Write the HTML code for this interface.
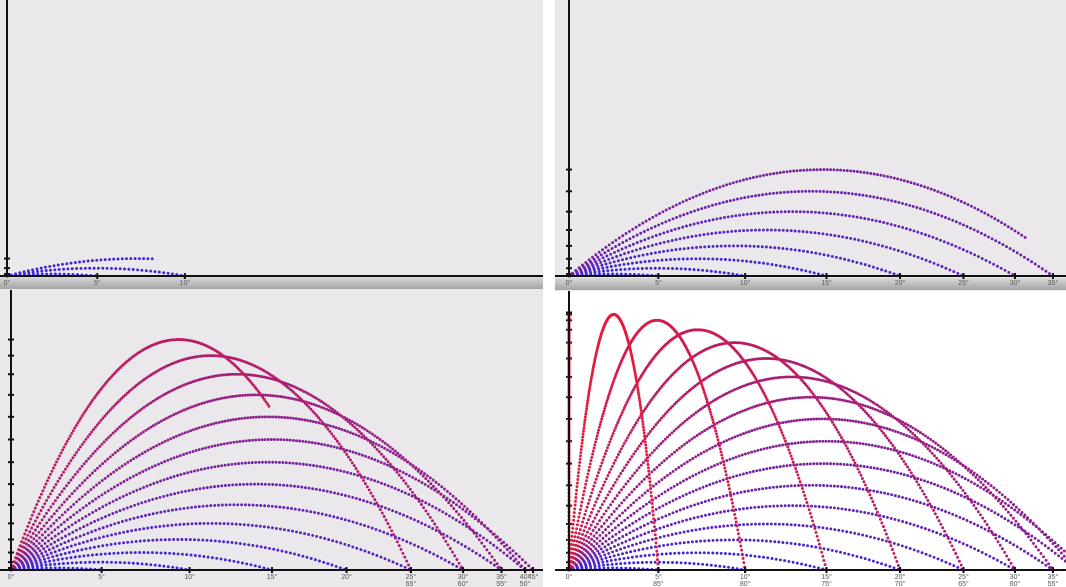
<!DOCTYPE html>
<html><head><meta charset="utf-8"><style>
html,body{margin:0;padding:0;width:1066px;height:587px;overflow:hidden;background:#fff;font-family:"Liberation Sans",sans-serif}
svg{display:block}
</style></head><body>
<svg id="chart" width="1066" height="587" xmlns="http://www.w3.org/2000/svg">
<defs><linearGradient id="bar" x1="0" y1="0" x2="0" y2="1"><stop offset="0" stop-color="#d8d8d8"/><stop offset="1" stop-color="#a4a4a4"/></linearGradient></defs>
</svg>
<script>
// angles (degrees) and flight time reached for each panel (NaN = landed / full flight)
const anglesTL = [5, 10, 15];
const tEndTL = [NaN, NaN, 0.29];
const anglesTR = [5, 10, 15, 20, 25, 30, 35, 40];
const tEndTR = [NaN, NaN, NaN, NaN, NaN, NaN, NaN, 1.156];
const anglesBL = [5, 10, 15, 20, 25, 30, 35, 40, 45, 50, 55, 60, 65, 70];
const tEndBL = [NaN, NaN, NaN, NaN, NaN, NaN, NaN, NaN, NaN, NaN, NaN, NaN, NaN, 1.45];
const anglesBR = [5, 10, 15, 20, 25, 30, 35, 40, 45, 50, 55, 60, 65, 70, 75, 80, 85, 90];
const tEndBR = [NaN, NaN, NaN, NaN, NaN, NaN, NaN, NaN, NaN, NaN, NaN, NaN, NaN, NaN, NaN, NaN, NaN, NaN];

const NS = 'http://www.w3.org/2000/svg';
const svg = document.getElementById('chart');
function mk(tag, attrs, parent) {
  const e = document.createElementNS(NS, tag);
  for (const k in attrs) e.setAttribute(k, attrs[k]);
  (parent || svg).appendChild(e);
  return e;
}
function color(a) {
  const t = Math.pow(a / 90, 1.25);
  return 'rgb(' + Math.round(50 + 190 * t) + ',' + Math.round(40 - 15 * t) + ',' + Math.round(225 - 175 * t) + ')';
}
function panel(name, px, py, pw, ph, bg, ox, oy, s, angles, tEnds, barY, axisTop) {
  const g = mk('g', {});
  
  
  const clipId = 'clip-' + name;
  const cp = mk('clipPath', { id: clipId }, g);
  mk('rect', { x: px, y: py, width: pw, height: ph }, cp);
  const bgR = mk('rect', { x: px, y: py, width: pw, height: ph, fill: bg }, g);
  
  
  const inner = mk('g', { 'clip-path': 'url(#' + clipId + ')' }, g);
  if (barY !== null) {
    const b = mk('rect', { x: px, y: barY, width: pw, height: 12, fill: 'url(#bar)' }, inner);
    
    
  }
  const xs = v => ox + v * s;
  const ys = v => oy - v * s;
  angles.forEach((a, i) => {
    const th = a * Math.PI / 180;
    const full = 2 * Math.sin(th);
    const tEnd = isNaN(tEnds[i]) ? full : Math.min(tEnds[i], full);
    const tr = mk('g', { fill: color(a) }, inner);
    
    
    const dt = 0.0085;
    for (let t = 0; t <= tEnd + 1e-9; t += dt) {
      const x = Math.cos(th) * t, y = Math.sin(th) * t - t * t / 2;
      mk('circle', { cx: xs(x).toFixed(1), cy: ys(y).toFixed(1), r: 1.45 }, tr);
    }
    const tp = Math.min(Math.sin(th), tEnd);
    const hy = Math.sin(th) * tp - tp * tp / 2;
    const tk = mk('line', { x1: ox - 3, x2: ox + 3, y1: ys(hy), y2: ys(hy), stroke: '#111', 'stroke-width': 2 }, inner);
    
    
  });
  const xa = mk('line', { x1: px, x2: px + pw, y1: oy, y2: oy, stroke: '#111', 'stroke-width': 2 }, inner);
  
  
  const ya = mk('line', { x1: ox, x2: ox, y1: axisTop, y2: oy, stroke: '#111', 'stroke-width': 2 }, inner);
  
  
  const lbl0 = mk('text', { x: xs(0), y: oy + 9, 'font-size': 7, fill: '#555', 'text-anchor': 'middle' }, inner);
  lbl0.textContent = '0°';
  
  
  angles.forEach((a, i) => {
    if (!isNaN(tEnds[i]) || a >= 90) return;
    const r = Math.sin(2 * a * Math.PI / 180);
    const tk = mk('line', { x1: xs(r), x2: xs(r), y1: oy - 3, y2: oy + 3, stroke: '#111', 'stroke-width': 2 }, inner);
    
    
    const row = a > 45 ? 1 : 0;
    const t = mk('text', { x: xs(r), y: oy + 9 + row * 7, 'font-size': 7, fill: '#555', 'text-anchor': 'middle' }, inner);
    t.textContent = a + '°';
    
    
  });
}
mk('rect', { x: 0, y: 0, width: 1066, height: 587, fill: '#fff' });
panel('panel-bottom-left', 0, 289, 543, 298, '#eae8eb', 11, 570, 522, anglesBL, tEndBL, null, 289);
panel('panel-bottom-right', 555, 290, 511, 297, '#ffffff', 569, 570, 515, anglesBR, tEndBR, null, 290);
panel('panel-top-left', 0, 0, 543, 290, '#eae8eb', 7, 276, 520, anglesTL, tEndTL, 277, 0);
panel('panel-top-right', 555, 0, 511, 291, '#eae8eb', 569, 276, 515, anglesTR, tEndTR, 278, 0);
</script>
</body></html>
